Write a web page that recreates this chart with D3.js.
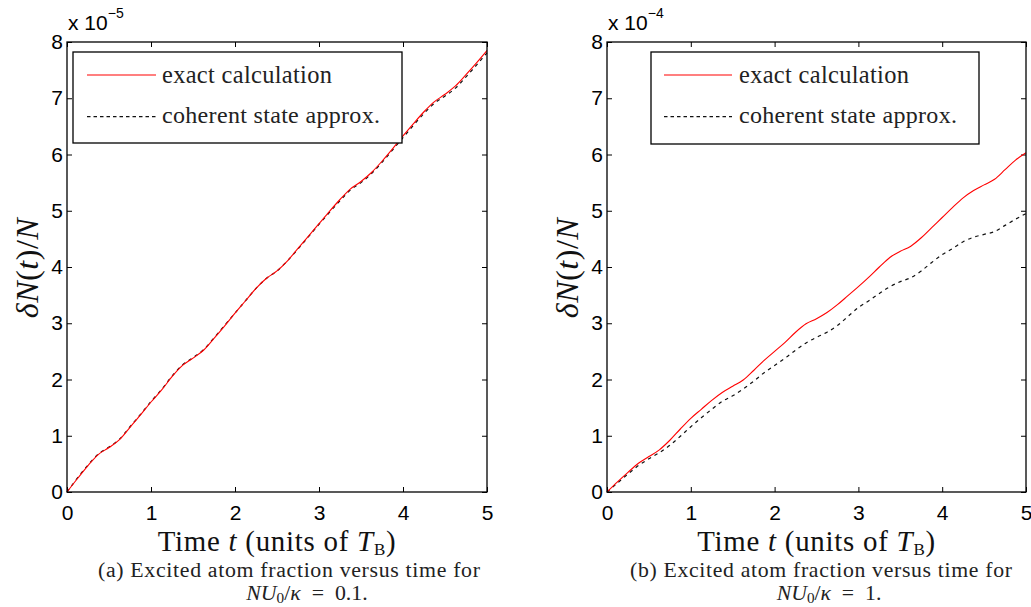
<!DOCTYPE html>
<html>
<head>
<meta charset="utf-8">
<script src="https://cdn.jsdelivr.net/npm/d3@7"></script>
<style>
  body { margin: 0; background: #fff; }
  svg { display: block; }
</style>
</head>
<body>
<svg id="fig" width="1031" height="607"></svg>
<script>
// Time samples (units of T_B)
const timeT = [0, 0.125, 0.25, 0.375, 0.5, 0.625, 0.75, 0.875, 1, 1.125, 1.25, 1.375, 1.5, 1.625, 1.75, 1.875,
  2, 2.125, 2.25, 2.375, 2.5, 2.625, 2.75, 2.875, 3, 3.125, 3.25, 3.375, 3.5, 3.625, 3.75, 3.875,
  4, 4.125, 4.25, 4.375, 4.5, 4.625, 4.75, 4.875, 5];

// Panel (a): NU0/kappa = 0.1, values in units of 1e-5
const exactA = [0, 0.24, 0.47, 0.67, 0.79, 0.93, 1.15, 1.37, 1.60, 1.81, 2.05, 2.25, 2.38, 2.52, 2.73, 2.95,
  3.18, 3.40, 3.62, 3.80, 3.93, 4.11, 4.33, 4.55, 4.77, 4.99, 5.20, 5.39, 5.52, 5.68, 5.88, 6.10,
  6.33, 6.55, 6.76, 6.94, 7.07, 7.22, 7.42, 7.63, 7.85];
const coherentA = [0, 0.25, 0.48, 0.68, 0.80, 0.94, 1.16, 1.38, 1.61, 1.82, 2.06, 2.26, 2.39, 2.53, 2.74, 2.96,
  3.18, 3.40, 3.62, 3.80, 3.93, 4.11, 4.32, 4.54, 4.76, 4.97, 5.18, 5.37, 5.50, 5.66, 5.86, 6.08,
  6.30, 6.52, 6.73, 6.91, 7.04, 7.18, 7.38, 7.59, 7.81];

// Panel (b): NU0/kappa = 1, values in units of 1e-4
const exactB = [0, 0.18, 0.35, 0.51, 0.63, 0.75, 0.92, 1.12, 1.31, 1.47, 1.63, 1.77, 1.88, 1.99, 2.16, 2.34,
  2.50, 2.66, 2.84, 2.99, 3.08, 3.19, 3.33, 3.49, 3.65, 3.82, 4.00, 4.17, 4.28, 4.37, 4.52, 4.70,
  4.88, 5.06, 5.23, 5.36, 5.46, 5.56, 5.73, 5.90, 6.03];
const coherentB = [0, 0.16, 0.32, 0.47, 0.59, 0.70, 0.83, 0.99, 1.16, 1.32, 1.47, 1.61, 1.71, 1.83, 1.97, 2.12,
  2.25, 2.38, 2.52, 2.65, 2.75, 2.84, 2.96, 3.12, 3.28, 3.40, 3.53, 3.65, 3.74, 3.81, 3.93, 4.08,
  4.22, 4.33, 4.45, 4.53, 4.58, 4.63, 4.74, 4.85, 4.95];

const xTicks = [0, 1, 2, 3, 4, 5];
const yTicks = [0, 1, 2, 3, 4, 5, 6, 7, 8];
const legendLabels = ["exact calculation", "coherent state approx."];

const SANS = "'Liberation Sans', Arial, Helvetica, sans-serif";
const SERIF = "'Liberation Serif', 'Times New Roman', serif";
const TICK_FS = 21;

const svg = d3.select("#fig");

// size a text element to width w: grow the font to cover most of it,
// then spread the letters slightly for the rest
function fitTo(textSel, w, fontShare = 0.95) {
  const node = textSel.node();
  const fs = parseFloat(textSel.attr("font-size"));
  let len = node.getComputedTextLength();
  if (len <= 0) return textSel;
  textSel.attr("font-size", (fs * w * fontShare / len).toFixed(2));
  return spread(textSel, w);
}
function spread(textSel, w) {
  const node = textSel.node();
  const len = node.getComputedTextLength();
  const n = node.getNumberOfChars();
  if (n > 1) textSel.attr("letter-spacing", ((w - len) / (n - 1)).toFixed(3));
  return textSel;
}

const panels = [
  {
    x0: 67, x1: 487, exp: "\u22125", exact: exactA, coherent: coherentA, tag: "(a)", ratio: "0.1.",
    legend: { x0: 73, x1: 402, y0: 52, y1: 143, sx0: 87, sx1: 156, tx: 162 },
    caption1: { x: 98, w: 382 }, caption2: { cx: 307 }, ylabX: 38
  },
  {
    x0: 607, x1: 1026, exp: "\u22124", exact: exactB, coherent: coherentB, tag: "(b)", ratio: "1.",
    legend: { x0: 651, x1: 979, y0: 52, y1: 144, sx0: 664, sx1: 732, tx: 739 },
    caption1: { x: 630, w: 382 }, caption2: { cx: 829 }, ylabX: 578
  }
];
const yTop = 42, yBot = 492;

panels.forEach(p => {
  const x = d3.scaleLinear().domain([0, 5]).range([p.x0, p.x1]);
  const y = d3.scaleLinear().domain([0, 8]).range([yBot, yTop]);
  const g = svg.append("g");

  // axes with inward ticks, mirrored on top and right
  const styleAxis = a => {
    a.attr("font-size", TICK_FS).attr("font-family", SANS);
    a.select(".domain").remove();
    a.selectAll(".tick line").attr("stroke", "#000").attr("stroke-width", 1);
    a.selectAll("text").attr("fill", "#000");
  };
  g.append("g").attr("transform", `translate(0,${yBot})`)
    .call(d3.axisBottom(x).tickValues(xTicks).tickFormat(d3.format("d")).tickSize(-5).tickPadding(13))
    .call(styleAxis);
  g.append("g").attr("transform", `translate(0,${yTop})`)
    .call(d3.axisTop(x).tickValues(xTicks).tickFormat("").tickSize(-5))
    .call(styleAxis);
  g.append("g").attr("transform", `translate(${p.x0},0)`)
    .call(d3.axisLeft(y).tickValues(yTicks).tickFormat(d3.format("d")).tickSize(-5).tickPadding(4))
    .call(styleAxis);
  g.append("g").attr("transform", `translate(${p.x1},0)`)
    .call(d3.axisRight(y).tickValues(yTicks).tickFormat("").tickSize(-5))
    .call(styleAxis);

  // curves
  const line = d3.line().x((d, i) => x(timeT[i])).y(d => y(d)).curve(d3.curveMonotoneX);
  g.append("path").datum(p.coherent).attr("d", line)
    .attr("fill", "none").attr("stroke", "#111").attr("stroke-width", 1.2)
    .attr("stroke-dasharray", "3.5,4");
  g.append("path").datum(p.exact).attr("d", line)
    .attr("fill", "none").attr("stroke", "#ff0000").attr("stroke-width", 1.1);

  // plot frame
  g.append("rect").attr("x", p.x0).attr("y", yTop)
    .attr("width", p.x1 - p.x0).attr("height", yBot - yTop)
    .attr("fill", "none").attr("stroke", "#000").attr("stroke-width", 1.3);

  // exponent label
  const ex = g.append("text").attr("x", p.x0 + 1).attr("y", 30)
    .attr("font-family", SANS).attr("font-size", TICK_FS).attr("fill", "#000");
  ex.append("tspan").text("x 10");
  ex.append("tspan").attr("dy", -12).attr("font-size", 14).text(p.exp);

  // legend
  const L = p.legend;
  const lg = g.append("g");
  lg.append("rect").attr("x", L.x0).attr("y", L.y0).attr("width", L.x1 - L.x0).attr("height", L.y1 - L.y0)
    .attr("fill", "#fff").attr("stroke", "#000").attr("stroke-width", 1.3);
  const rows = [
    { label: legendLabels[0], stroke: "#ff0000", dash: null, sy: 75, ty: 82.5, w: 170, sw: 1.1 },
    { label: legendLabels[1], stroke: "#111", dash: "3.5,3", sy: 116.7, ty: 122.5, w: 218, sw: 1.2 }
  ];
  rows.forEach(r => {
    lg.append("line").attr("x1", L.sx0).attr("x2", L.sx1).attr("y1", r.sy).attr("y2", r.sy)
      .attr("stroke", r.stroke).attr("stroke-width", r.sw).attr("stroke-dasharray", r.dash);
    const t = lg.append("text").attr("x", L.tx).attr("y", r.ty)
      .attr("font-family", SERIF).attr("font-size", 21).attr("fill", "#222").text(r.label);
    fitTo(t, r.w, 0.97);
  });

  // x axis label
  const xl = g.append("text").attr("x", (p.x0 + p.x1) / 2).attr("y", 551)
    .attr("text-anchor", "middle").attr("font-family", SERIF).attr("font-size", 24).attr("fill", "#111");
  xl.append("tspan").text("Time ");
  xl.append("tspan").attr("font-style", "italic").text("t");
  xl.append("tspan").text(" (units of ");
  xl.append("tspan").attr("font-style", "italic").text("T");
  xl.append("tspan").attr("font-size", 17).attr("dy", 4).text("B");
  xl.append("tspan").attr("dy", -4).text(")");
  fitTo(xl, 238, 0.95);

  // y axis label
  const yl = g.append("text")
    .attr("transform", `translate(${p.ylabX},268) rotate(-90)`)
    .attr("text-anchor", "middle").attr("font-family", SERIF).attr("font-size", 25).attr("fill", "#111");
  yl.append("tspan").attr("font-style", "italic").text("\u03B4N");
  yl.append("tspan").text("(");
  yl.append("tspan").attr("font-style", "italic").text("t");
  yl.append("tspan").text(")/");
  yl.append("tspan").attr("font-style", "italic").text("N");
  fitTo(yl, 100, 0.97);

  // sub-figure caption, second line set in the same size as the first
  const c1 = g.append("text").attr("x", p.caption1.x).attr("y", 577)
    .attr("font-family", SERIF).attr("font-size", 17).attr("fill", "#222")
    .text(`${p.tag} Excited atom fraction versus time for`);
  fitTo(c1, p.caption1.w, 0.93);
  const capFs = parseFloat(c1.attr("font-size"));
  const c2 = g.append("text").attr("x", p.caption2.cx).attr("y", 600).attr("text-anchor", "middle")
    .attr("font-family", SERIF).attr("font-size", capFs).attr("fill", "#222");
  c2.append("tspan").attr("font-style", "italic").text("NU");
  c2.append("tspan").attr("font-size", capFs * 0.7).attr("dy", 3).text("0");
  c2.append("tspan").attr("dy", -3).text("/");
  c2.append("tspan").attr("font-style", "italic").text("\u03BA");
  c2.append("tspan").text("\u2002=\u2002" + p.ratio);
});
</script>
</body>
</html>
